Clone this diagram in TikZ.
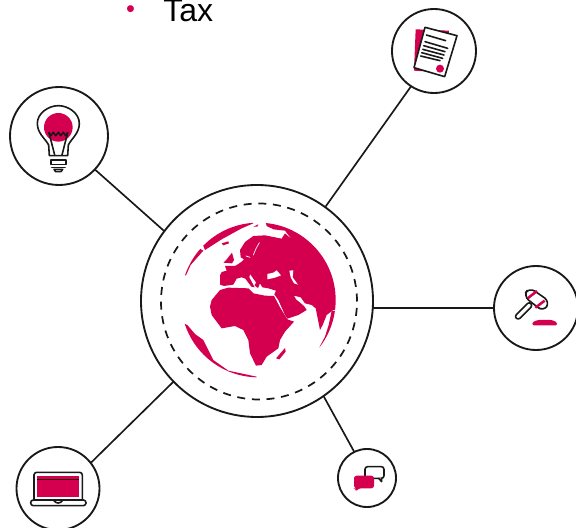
\documentclass[tikz,border=0pt]{standalone}
\usepackage{fontspec}
\setmainfont{Liberation Sans}
\definecolor{brand}{HTML}{D4004F}
\tikzset{
  ring/.style={draw=black!90,circle,line width=1.4pt,inner sep=0pt,outer sep=0pt,minimum size=#1*1.5pt},
  link/.style={draw=black!90,line width=1.25pt},
  zoomat/.style={shift={(#1)},x=0.25pt,y=-0.25pt},
  ink/.style={draw=black!90,line width=1.2pt,line join=round,line cap=round},
  land/.style={fill=brand},
  sea/.style={draw=white,line width=0.5pt,line cap=round,line join=round},
}
\begin{document}
\begin{tikzpicture}[x=0.75pt,y=-0.75pt]
\useasboundingbox (0,0) rectangle (576,528);
% hub and satellite rings
\node[ring=116] (hub) at (257,301) {};
\node[ring=98,line width=1.3pt,dash pattern=on 6pt off 5pt] (orbit) at (259,301.5) {};
\node[ring=49] (bulb) at (59,136) {};
\node[ring=42] (doc) at (434,51) {};
\node[ring=42] (gavel) at (536,308) {};
\node[ring=29] (chat) at (367,478) {};
\node[ring=41.5] (laptop) at (58,488.5) {};
% connectors
\draw[link] (hub.54) -- (doc.237);
\draw[link] (hub.143) -- (bulb.-43);
\draw[link] (gavel.west) -- (gavel.west -| hub.east);
\draw[link] (hub.-55.5) -- (chat.116.5);
\draw[link] (hub.224) -- (laptop.38);
% bullet text
\node[anchor=base west,inner sep=0pt,font=\fontsize{24pt}{24pt}\selectfont] (tax) at (163,21.5) {Tax};
\node[anchor=base,inner sep=0pt,text=brand,font=\fontsize{19pt}{19pt}\selectfont] (dot) at (130.5,18) {•};
% globe
\begin{scope}[zoomat={170,200}]
  \clip (265,300) circle[radius=232];
  % Eurasia
  \fill[land] (285,60)--(540,60)--(540,330)--(490,330)--(470,345)--(458,375)--(450,390)--(445,365)--(437,325)--(425,315)--(405,310)--(392,292)--(372,287)--(378,298)--(402,318)--(410,330)--(385,345)--(352,356)--(345,345)--(325,300)--(313,283)--(318,272)--(295,265)--(277,262)--(270,250)--(264,264)--(254,257)--(258,247)--(240,222)--(238,232)--(254,262)--(244,260)--(226,236)--(215,232)--(200,236)--(190,254)--(162,258)--(150,254)--(150,226)--(155,216)--(170,212)--(165,198)--(195,198)--(205,192)--(215,185)--(222,178)--(212,172)--(210,150)--(225,126)--(250,108)--(285,106)--(310,111)--(335,116)--(345,100)--(365,118)--(345,92)--(310,88)--(290,78)--cycle;
  % Africa
  \fill[land] (120,320)--(125,300)--(150,270)--(175,263)--(235,265)--(250,280)--(285,287)--(312,288)--(330,322)--(352,358)--(372,365)--(345,395)--(330,420)--(325,445)--(290,470)--(275,495)--(258,497)--(240,460)--(235,420)--(220,390)--(195,378)--(155,385)--(125,345)--cycle;
  % Madagascar
  \fill[land] (318,475)--(345,444)--(347,455)--(328,478)--cycle;
  % South America
  \fill[land] (35,368)--(52,375)--(75,402)--(100,420)--(130,480)--(175,512)--(260,530)--(260,560)--(0,560)--(0,368)--cycle;
  % Greenland and north-west rim
  \fill[land] (105,150)--(155,118)--(215,85)--(250,70)--(250,40)--(60,40)--cycle;
  \fill[land] (48,226)--(62,195)--(100,152)--(60,130)--(20,226)--cycle;
  \fill[land] (155,130)--(175,124)--(177,130)--(160,136)--cycle;
  \fill[land] (250,80)--(265,73)--(262,80)--cycle;
  % British Isles
  \fill[land] (170,178)--(186,158)--(192,180)--(186,190)--(160,188)--cycle;
  % Indonesia rim
  \fill[land] (485,333)--(476,375)--(465,410)--(448,442)--(500,450)--(520,333)--cycle;
  % enclosed seas
  \fill[white] (292,222)--(310,218)--(320,211)--(333,226)--(315,233)--(292,238)--cycle;
  \fill[white] (358,212)--(370,211)--(368,232)--(384,254)--(372,250)--(362,232)--cycle;
  \draw[sea] (268,128)--(258,146)--(250,165);
  \draw[sea] (240,172)--(228,168);
  \draw[sea] (305,86)--(318,100)--(335,108);
\end{scope}
% light bulb
\begin{scope}[zoomat={0,90}]
  \fill[brand] (175,112) circle[radius=43];
  \draw[ink] (148,197)--(146,165) .. controls (135,145) and (112,130) .. (112,100) .. controls (112,70) and (145,47) .. (175,47) .. controls (205,47) and (238,70) .. (238,100) .. controls (238,130) and (215,145) .. (205,165)--(203,197)--cycle;
  \draw[ink] (147,128)--(164,195);
  \draw[ink] (203,128)--(186,195);
  \draw[ink] (147,128)--(153,137)--(160,127)--(167,137)--(175,127)--(182,137)--(190,127)--(197,137)--(203,128);
  \draw[ink] (153,210) rectangle (198,223);
  \draw[ink] (155,233)--(195,233);
  \draw[ink] (162,238)--(188,238)--(183,245)--(167,245)--cycle;
\end{scope}
% document
\begin{scope}[zoomat={380,0}]
  \fill[brand] (107,88)--(207,92)--(200,218)--(102,212)--cycle;
  \draw[ink,fill=white] (135,82)--(231,107)--(194,230)--(102,203)--cycle;
  \draw[ink] (139,105)--(197,122);
  \draw[ink] (135,125)--(203,145);
  \draw[ink] (131,137)--(195,155);
  \draw[ink] (128,148)--(192,165);
  \draw[ink] (125,158)--(188,175);
  \draw[ink] (122,168)--(180,182);
  \fill[brand] (180,206) circle[radius=12];
\end{scope}
% gavel
\begin{scope}[zoomat={486,260}]
  \draw[ink,rounded corners=5pt,fill=white] (112,108)--(130,82)--(192,125)--(172,155)--cycle;
  \draw[brand,line width=1.9pt] (125,115)--(153,93);
  \draw[brand,line width=1.9pt] (148,143)--(176,122);
  \draw[ink,rounded corners=2pt,fill=white] (130,125)--(140,137)--(97,180)--(85,170)--cycle;
  \fill[brand,rounded corners=1pt] (155,180)--(198,180)--(213,187)--(213,196)--(139,196)--(139,187)--cycle;
\end{scope}
% speech bubbles
\begin{scope}[zoomat={330,445}]
  \draw[ink,rounded corners=2pt] (105,65) rectangle (162,100);
  \draw[ink,fill=white] (146,100)--(155,110)--(155,100);
  \fill[brand,rounded corners=2pt] (72,92)--(132,92)--(132,130)--(85,130)--(78,140)--(78,130)--(72,130)--cycle;
\end{scope}
% laptop
\begin{scope}[zoomat={10,440}]
  \draw[ink,rounded corners=2pt] (72,180)--(72,97)--(217,97)--(217,180);
  \fill[brand] (82,107) rectangle (207,172);
  \draw[black!80!brand,line width=1pt] (80,118)--(208,118);
  \draw[ink,rounded corners=2pt] (62,180) rectangle (228,197);
  \draw[ink,rounded corners=2pt] (132,182)--(136,189)--(153,189)--(157,182);
\end{scope}
\end{tikzpicture}
\end{document}
